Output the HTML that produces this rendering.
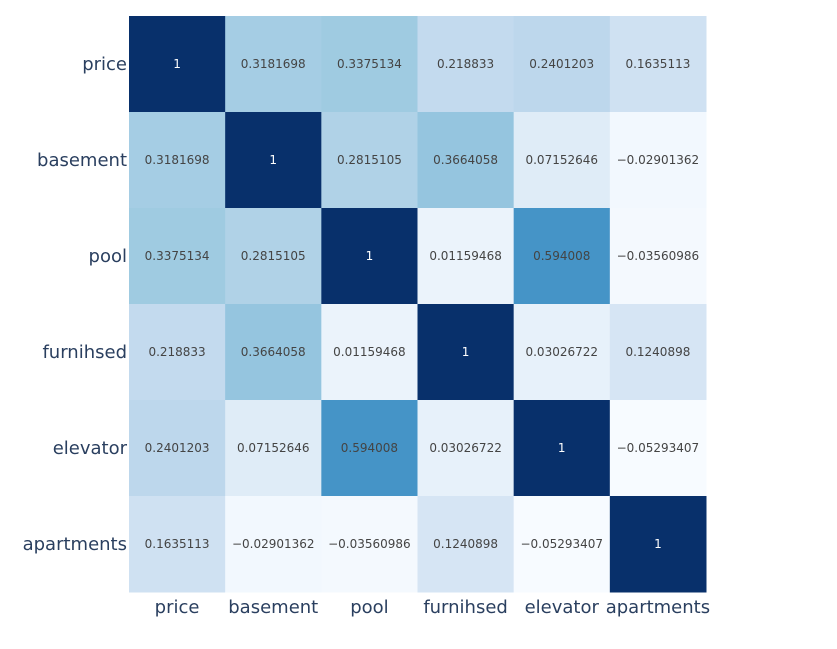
<!DOCTYPE html>
<html><head><meta charset="utf-8">
<style>
body{margin:0;background:#fff;font-family:"DejaVu Sans","Liberation Sans",sans-serif;}
svg{display:block}
text{font-family:"DejaVu Sans","Liberation Sans",sans-serif;}
</style></head>
<body>
<svg id="chart" width="837" height="649" xmlns="http://www.w3.org/2000/svg"></svg>
<script>
const labels = ["price","basement","pool","furnihsed","elevator","apartments"];
const row0 = [1,0.3181698,0.3375134,0.218833,0.2401203,0.1635113];
const row1 = [0.3181698,1,0.2815105,0.3664058,0.07152646,-0.02901362];
const row2 = [0.3375134,0.2815105,1,0.01159468,0.594008,-0.03560986];
const row3 = [0.218833,0.3664058,0.01159468,1,0.03026722,0.1240898];
const row4 = [0.2401203,0.07152646,0.594008,0.03026722,1,-0.05293407];
const row5 = [0.1635113,-0.02901362,-0.03560986,0.1240898,-0.05293407,1];
const rows = [row0,row1,row2,row3,row4,row5];

const NS="http://www.w3.org/2000/svg";
const svg=document.getElementById('chart');
const x0=129,x1=706,y0=16,y1=592;
const cw=(x1-x0)/labels.length, ch=(y1-y0)/labels.length;
const xPos=i=>x0+i*cw, yPos=j=>y0+j*ch;
const stops=["#f7fbff","#deebf7","#c6dbef","#9ecae1","#6baed6","#4292c6","#2171b5","#08519c","#08306b"];
const all=rows.flat(); const zmin=Math.min(...all), zmax=Math.max(...all);
function hex(h){return [1,3,5].map(k=>parseInt(h.substr(k,2),16));}
function color(v){
  let t=(v-zmin)/(zmax-zmin); t=Math.max(0,Math.min(1,t));
  const p=t*(stops.length-1), i=Math.min(Math.floor(p),stops.length-2), f=p-i;
  const a=hex(stops[i]), b=hex(stops[i+1]);
  const c=a.map((x,k)=>Math.round(x+(b[k]-x)*f));
  return {css:`rgb(${c[0]},${c[1]},${c[2]})`, lum:(0.299*c[0]+0.587*c[1]+0.114*c[2])};
}
function fmt(v){return v<0?"\u2212"+String(-v):String(v);}
rows.forEach((r,j)=>{
  r.forEach((v,i)=>{
    const c=color(v);
    const rect=document.createElementNS(NS,'rect');
    rect.setAttribute('x',xPos(i));rect.setAttribute('y',yPos(j));
    rect.setAttribute('width',cw+0.5);rect.setAttribute('height',ch+0.5);
    rect.setAttribute('fill',c.css);
    
    
    svg.appendChild(rect);
    const t=document.createElementNS(NS,'text');
    t.setAttribute('x',xPos(i)+cw/2);t.setAttribute('y',yPos(j)+ch/2+4);
    t.setAttribute('text-anchor','middle');t.setAttribute('font-size','12');
    t.setAttribute('fill',c.lum<90?'#ffffff':'#444444');
    t.textContent=fmt(v);
    
    
    svg.appendChild(t);
  });
});
labels.forEach((l,i)=>{
  const t=document.createElementNS(NS,'text');
  t.setAttribute('x',xPos(i)+cw/2);t.setAttribute('y',y1+21);
  t.setAttribute('text-anchor','middle');t.setAttribute('font-size','18');t.setAttribute('fill','#2a3f5f');
  t.textContent=l;
  
  
  svg.appendChild(t);
  const u=document.createElementNS(NS,'text');
  u.setAttribute('x',x0-2);u.setAttribute('y',yPos(i)+ch/2+6);
  u.setAttribute('text-anchor','end');u.setAttribute('font-size','18');u.setAttribute('fill','#2a3f5f');
  u.textContent=l;
  
  
  svg.appendChild(u);
});
</script>
</body></html>
